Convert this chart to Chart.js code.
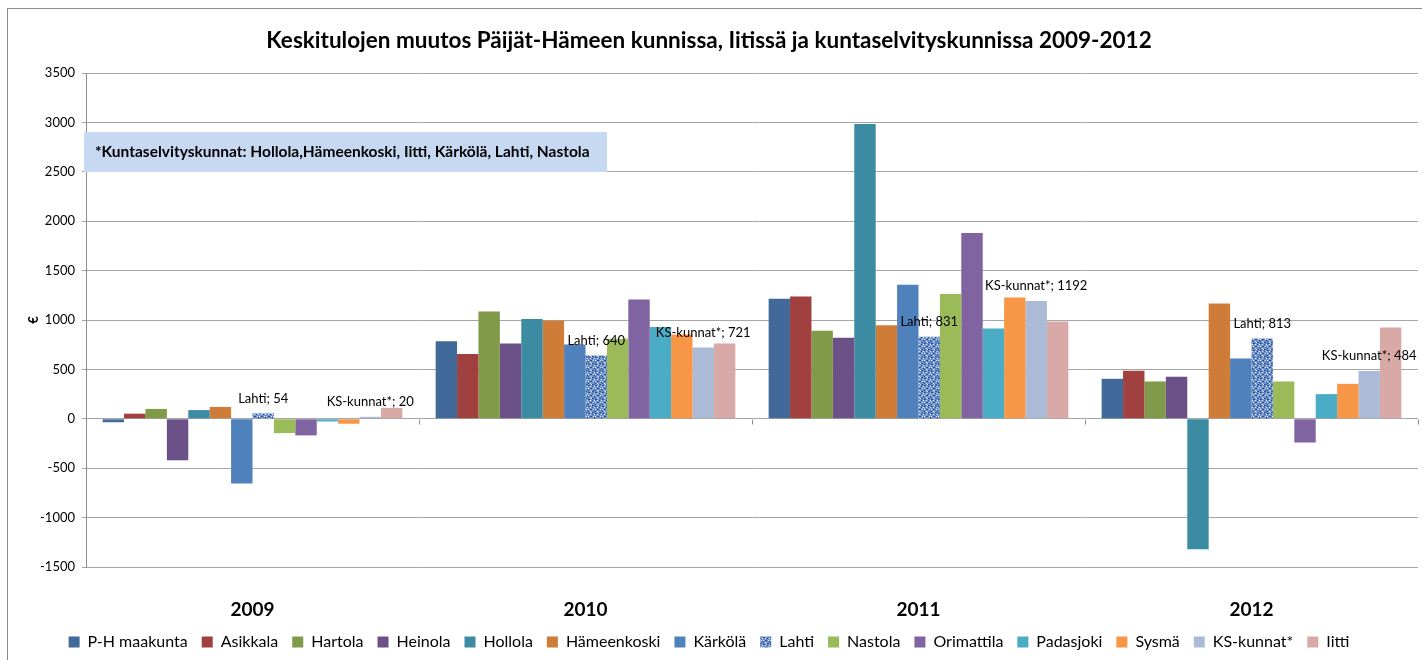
<!DOCTYPE html>
<html>
<head>
<meta charset="utf-8">
<script src="https://cdn.jsdelivr.net/npm/chart.js@4"></script>
<style>
  html, body { margin: 0; padding: 0; background: #fff; }
  #wrap { width: 1422px; height: 660px; }
</style>
</head>
<body>
<div id="wrap"><canvas id="chart" width="1422" height="660"></canvas></div>
<script>
// years on the x axis
const years = ['2009', '2010', '2011', '2012'];

// municipalities (legend order)
const names = ['P-H maakunta', 'Asikkala', 'Hartola', 'Heinola', 'Hollola', 'Hämeenkoski',
  'Kärkölä', 'Lahti', 'Nastola', 'Orimattila', 'Padasjoki', 'Sysmä', 'KS-kunnat*', 'Iitti'];

// change of average income, € (2009, 2010, 2011, 2012)
const phMaakunta = [-35, 786, 1215, 405];
const asikkala = [52, 655, 1238, 486];
const hartola = [100, 1086, 890, 378];
const heinola = [-420, 762, 820, 425];
const hollola = [88, 1009, 2985, -1320];
const hameenkoski = [120, 995, 948, 1167];
const karkola = [-655, 752, 1356, 610];
const lahti = [54, 640, 831, 813];
const nastola = [-145, 810, 1262, 378];
const orimattila = [-168, 1208, 1880, -240];
const padasjoki = [-27, 928, 914, 250];
const sysma = [-50, 853, 1228, 354];
const ksKunnat = [20, 721, 1192, 484];
const iitti = [110, 762, 985, 924];

const yTicks = [-1500, -1000, -500, 0, 500, 1000, 1500, 2000, 2500, 3000, 3500];

const colors = ['#41699a', '#a0403f', '#809a49', '#6b5187', '#3b8ba2', '#d07c39',
  '#4f81bd', null, '#9bbb59', '#8064a2', '#4bacc6', '#f79646', '#aabad7', '#d9a9a8'];

const series = [phMaakunta, asikkala, hartola, heinola, hollola, hameenkoski,
  karkola, lahti, nastola, orimattila, padasjoki, sysma, ksKunnat, iitti];

// speckled fill used for Lahti
function lahtiPattern() {
  const c = document.createElement('canvas');
  c.width = 7; c.height = 7;
  const g = c.getContext('2d');
  g.fillStyle = '#6f93cf';
  g.fillRect(0, 0, 7, 7);
  g.fillStyle = '#2a4c8c';
  [[0, 0], [1, 0], [4, 1], [2, 3], [3, 3], [6, 4], [0, 5], [4, 6], [5, 6]].forEach(p => g.fillRect(p[0], p[1], 1, 1));
  g.fillStyle = '#e4ecf9';
  [[2, 1], [6, 1], [0, 3], [5, 3], [2, 5], [3, 6]].forEach(p => g.fillRect(p[0], p[1], 1, 1));
  return g.createPattern(c, 'repeat');
}

const datasets = names.map((n, i) => ({
  label: n,
  data: series[i],
  backgroundColor: i === 7 ? lahtiPattern() : colors[i],
  borderWidth: 0,
  categoryPercentage: 0.9,
  barPercentage: 1
}));

const FONT = 'Lato, "Open Sans", sans-serif';

const extras = {
  id: 'extras',
  beforeDraw(chart) {
    const ctx = chart.ctx;
    ctx.save();
    ctx.strokeStyle = '#8c8c8c';
    ctx.lineWidth = 1;
    ctx.strokeRect(7.5, 8.5, 1430, 670);
    ctx.restore();
  },
  afterDatasetsDraw(chart) {
    const ctx = chart.ctx;
    const x = chart.scales.x, y = chart.scales.y;
    const zero = Math.round(y.getPixelForValue(0)) + 0.5;
    ctx.save();
    // tick marks on the zero line between year groups
    ctx.strokeStyle = '#8c8c8c';
    ctx.lineWidth = 1;
    for (let i = 0; i <= years.length; i++) {
      const px = Math.round(x.getPixelForValue(i - 0.5)) + 0.5;
      ctx.beginPath();
      ctx.moveTo(px, zero);
      ctx.lineTo(px, zero + 5);
      ctx.stroke();
    }
    // data labels for Lahti and KS-kunnat*
    ctx.fillStyle = '#000';
    ctx.font = '13px ' + FONT;
    ctx.textAlign = 'center';
    ctx.textBaseline = 'middle';
    [7, 12].forEach(di => {
      chart.getDatasetMeta(di).data.forEach((bar, j) => {
        const top = Math.min(bar.y, bar.base);
        ctx.fillText(names[di] + '; ' + series[di][j], bar.x, top - 15);
      });
    });
    // note box
    ctx.fillStyle = '#c6d9f1';
    ctx.fillRect(84, 132, 523, 40);
    ctx.fillStyle = '#000';
    ctx.font = 'bold 15.5px ' + FONT;
    ctx.textAlign = 'left';
    ctx.fillText('*Kuntaselvityskunnat: Hollola,Hämeenkoski, Iitti, Kärkölä, Lahti, Nastola', 95, 152);
    ctx.restore();
  }
};

new Chart(document.getElementById('chart'), {
  type: 'bar',
  data: { labels: years, datasets: datasets },
  options: {
    responsive: false,
    animation: false,
    layout: { padding: { top: 0, left: 0, right: 4, bottom: 0 } },
    plugins: {
      title: {
        display: true,
        text: 'Keskitulojen muutos Päijät-Hämeen kunnissa, Iitissä ja kuntaselvityskunnissa 2009-2012',
        color: '#000',
        font: { family: FONT, size: 22.5, weight: 'bold' },
        padding: { top: 27, bottom: 19 }
      },
      legend: {
        position: 'bottom',
        labels: {
          color: '#000',
          font: { family: FONT, size: 16 },
          boxWidth: 11,
          boxHeight: 11,
          padding: 14
        }
      },
      tooltip: { enabled: false }
    },
    scales: {
      x: {
        grid: { display: false },
        border: { display: false },
        ticks: { color: '#000', font: { family: FONT, size: 19, weight: 'bold' }, padding: 23 },
        afterFit(s) { s.height = 53; }
      },
      y: {
        min: -1500,
        max: 3500,
        afterBuildTicks(s) { s.ticks = yTicks.map(v => ({ value: v })); },
        grid: { color: '#a6a6a6', tickLength: 4 },
        border: { color: '#8c8c8c' },
        ticks: {
          color: '#000',
          font: { family: FONT, size: 13 },
          padding: 7,
          callback: v => String(v)
        },
        title: {
          display: true,
          text: '€',
          color: '#000',
          font: { family: FONT, size: 13, weight: 'bold' },
          padding: { top: 26, bottom: 0 }
        },
        afterFit(s) { s.width = 86; }
      }
    }
  },
  plugins: [extras]
});
</script>
</body>
</html>
